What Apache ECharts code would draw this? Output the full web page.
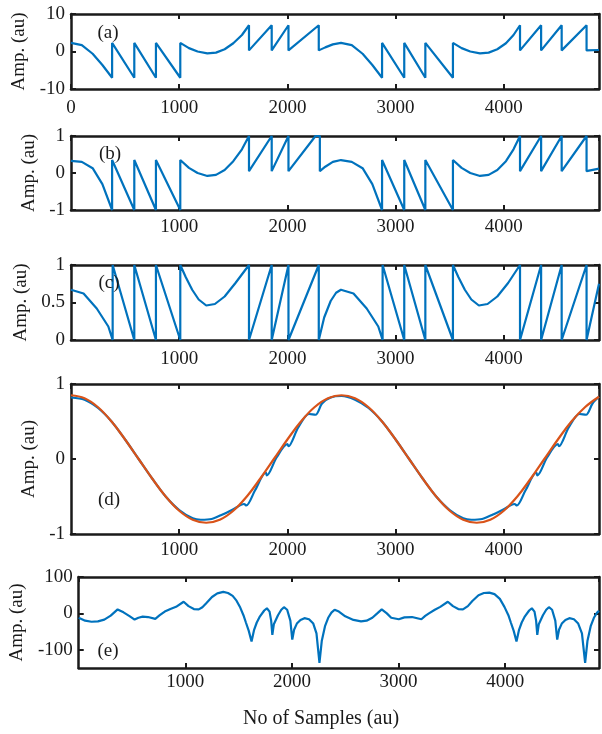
<!DOCTYPE html>
<html>
<head>
<meta charset="utf-8">
<script src="https://cdn.jsdelivr.net/npm/echarts@6/dist/echarts.min.js"></script>
<style>
  html, body { margin: 0; padding: 0; background: #fff; }
  #chart { width: 602px; height: 734px; }
</style>
</head>
<body>
<div id="chart"></div>
<script>
// samples / amplitudes
var aSamples = [0,100,200,290,380, 380,585, 585,785, 785,1010, 1010,1090,1170,1260,1340,1420,1500,1580,1645, 1645,1855, 1855,2010, 2010,2290, 2290,2350,2420,2495,2595,2695,2785,2875, 2875,3080, 3080,3275, 3275,3530, 3530,3610,3690,3780,3860,3940,4020,4090,4150, 4150,4345, 4345,4535, 4535,4765, 4765,4880];
var aAmp = [2.3,1.7,-0.6,-3.6,-7.0, 2.3,-7.0, 2.3,-7.0, 2.3,-7.0, 2.3,0.9,0,-0.5,-0.3,0.6,2.2,4.4,7.0, 0.3,7.0, 0.3,7.0, 0.3,7.0, 0.3,1.1,1.9,2.3,1.7,-0.6,-3.6,-7.0, 2.3,-7.0, 2.3,-7.0, 2.3,-7.0, 2.3,0.9,0,-0.5,-0.3,0.6,2.2,4.4,7.0, 0.3,7.0, 0.3,7.0, 0.3,7.0, 0.3,0.4];

var bSamples = [0,100,200,290,380, 380,585, 585,785, 785,1010, 1010,1090,1170,1260,1340,1420,1500,1580,1645, 1645,1855, 1855,2010, 2010,2260,2300, 2300,2350,2420,2495,2595,2695,2785,2875, 2875,3080, 3080,3275, 3275,3530, 3530,3610,3690,3780,3860,3940,4020,4090,4150, 4150,4345, 4345,4535, 4535,4765, 4765,4880];
var bAmp = [0.33,0.3,0.13,-0.3,-1, 0.35,-1, 0.35,-1, 0.35,-1, 0.35,0.14,0,-0.08,-0.05,0.08,0.32,0.64,1, 0.05,1, 0.05,1, 0.05,1,1, 0.05,0.17,0.3,0.35,0.3,0.13,-0.3,-1, 0.35,-1, 0.35,-1, 0.35,-1, 0.35,0.14,0,-0.08,-0.05,0.08,0.32,0.64,1, 0.05,1, 0.05,1, 0.05,1, 0.05,0.12];

var cSamples = [0,116,238,345,385, 385,585, 585,785, 785,1010, 1010,1060,1120,1180,1250,1330,1420,1520,1645, 1645,1855, 1855,2010, 2010,2290, 2290,2340,2400,2450,2495,2611,2733,2840,2880, 2880,3080, 3080,3275, 3275,3530, 3530,3580,3640,3700,3770,3850,3940,4040,4150, 4150,4345, 4345,4535, 4535,4765, 4765,4880];
var cAmp = [0.67,0.62,0.42,0.18,0, 1,0, 1,0, 1,0, 1,0.84,0.67,0.54,0.46,0.48,0.58,0.76,1, 0,1, 0,1, 0,1, 0,0.3,0.52,0.63,0.67,0.62,0.42,0.18,0, 1,0, 1,0, 1,0, 1,0.84,0.67,0.54,0.46,0.48,0.58,0.76,1, 0,1, 0,1, 0,1, 0,0.75];

var dSamples = [0,125,250,375,500,625,750,875,1000,1125,1200,1300,1400,1500,1600,1620,1700,1800,1810,1900,2000,2010,2100,2200,2260,2320,2400,2500,2625,2750,2875,3000,3125,3250,3375,3500,3625,3700,3800,3900,4000,4100,4120,4200,4300,4310,4400,4500,4510,4600,4700,4760,4820,4880];
var dAmp = [0.82,0.79,0.68,0.5,0.26,0,-0.26,-0.5,-0.68,-0.79,-0.81,-0.8,-0.74,-0.67,-0.6,-0.62,-0.42,-0.18,-0.22,0.02,0.2,0.17,0.42,0.6,0.59,0.74,0.82,0.84,0.79,0.68,0.5,0.26,0,-0.26,-0.5,-0.68,-0.79,-0.81,-0.8,-0.74,-0.67,-0.6,-0.62,-0.42,-0.18,-0.22,0.02,0.2,0.17,0.42,0.6,0.59,0.74,0.83];
var dFitSamples = [0,125,250,375,500,625,750,875,1000,1125,1250,1375,1500,1625,1750,1875,2000,2125,2250,2375,2500,2625,2750,2875,3000,3125,3250,3375,3500,3625,3750,3875,4000,4125,4250,4375,4500,4625,4750,4880];
var dFitAmp = [0.85,0.81,0.69,0.5,0.26,0,-0.26,-0.5,-0.69,-0.81,-0.85,-0.81,-0.69,-0.5,-0.26,0,0.26,0.5,0.69,0.81,0.85,0.81,0.69,0.5,0.26,0,-0.26,-0.5,-0.69,-0.81,-0.85,-0.81,-0.69,-0.5,-0.26,0,0.26,0.5,0.69,0.83];

var eSamples = [0,60,120,180,240,300,365,420,480,524,560,600,650,718,760,807,860,913,984,1030,1080,1126,1160,1196,1250,1300,1356,1400,1444,1480,1515,1545,1568,1595,1621,1645,1670,1700,1740,1765,1790,1805,1816,1830,1869,1900,1925,1955,1985,2003,2020,2046,2080,2117,2160,2200,2230,2258,2280,2310,2340,2370,2400,2440,2500,2577,2648,2700,2754,2800,2842,2890,2931,3002,3055,3126,3214,3250,3285,3340,3391,3462,3510,3560,3604,3650,3692,3750,3800,3851,3900,3950,3993,4030,4053,4080,4106,4130,4155,4185,4225,4250,4275,4290,4301,4315,4354,4385,4410,4440,4470,4488,4505,4531,4565,4602,4645,4685,4720,4750,4772,4802,4832,4862,4880];
var eAmp = [-12,-20,-23,-22,-17,-6,11,3,-8,-17,-12,-9,-10,-15,-5,5,12,18,32,20,12,11,17,28,45,55,59,56,48,35,16,-5,-25,-48,-77,-45,-25,-8,8,14,5,-20,-59,-30,-5,10,17,10,-20,-72,-45,-28,-18,-13,-16,-28,-55,-136,-75,-35,-12,2,10,5,-8,-18,-22,-20,-12,0,11,0,-12,-16,-11,-10,-16,-7,0,10,18,32,20,12,11,20,34,50,56,57,53,40,18,-5,-25,-48,-77,-45,-25,-8,8,14,5,-20,-59,-30,-5,10,17,10,-20,-72,-45,-28,-18,-13,-16,-28,-55,-136,-75,-35,-12,2,7];

var panelTags = ['(a)', '(b)', '(c)', '(d)', '(e)'];
var xTickStep = 1000;
var sampleMax = 4880;

function zip(xs, ys) {
	return xs.map(function (x, i) { return [x, ys[i]]; });
}

var font = 'Liberation Serif';
var ink = '#1a1a1a';
var blue = '#0072BD';
var orange = '#D95319';

// grid boxes in px
var boxes = [
	{top: 14, height: 75, labelGap: 10, y: {min: -10, max: 10, interval: 10}},
	{top: 136, height: 74, labelGap: 8, y: {min: -1, max: 1, interval: 1}},
	{top: 265, height: 75, labelGap: 10, y: {min: 0, max: 1, interval: 0.5}},
	{top: 384, height: 150, labelGap: 7, y: {min: -1, max: 1, interval: 1}},
	{top: 577, height: 91, labelGap: 5, y: {min: -150, max: 100, custom: [-100, 0, 100]}}
];

var plain = function (v) { return String(v); };

var grid = [], xAxis = [], yAxis = [];
boxes.forEach(function (b, i) {
	grid.push({left: 71, right: 3, top: b.top, height: b.height});
	var line = {show: true, onZero: false, lineStyle: {color: ink, width: 2.5}};
	var tick = {show: true, inside: true, length: 5, lineStyle: {color: ink, width: 2}};
	var common = {
		type: 'value', gridIndex: i, min: 0, max: sampleMax, interval: xTickStep,
		axisLine: line, axisTick: tick, splitLine: {show: false}
	};
	xAxis.push(Object.assign({}, common, {
		position: 'bottom',
		axisLabel: {
			color: ink, fontFamily: font, fontSize: 19, margin: b.labelGap,
			showMinLabel: i === 0, showMaxLabel: false, formatter: plain
		}
	}));
	xAxis.push(Object.assign({}, common, {position: 'top', axisLabel: {show: false}}));

	var yBase = {
		type: 'value', gridIndex: i, min: b.y.min, max: b.y.max,
		axisLine: line, splitLine: {show: false}
	};
	var yTick = Object.assign({}, tick);
	var yLab = {color: ink, fontFamily: font, fontSize: 19, margin: 6, formatter: plain};
	if (b.y.custom) {
		yTick.customValues = b.y.custom;
		yLab.customValues = b.y.custom;
	} else {
		yBase.interval = b.y.interval;
	}
	yAxis.push(Object.assign({}, yBase, {
		position: 'left', axisTick: yTick, axisLabel: yLab,
		name: 'Amp. (au)', nameLocation: 'middle', nameGap: 31,
		nameTextStyle: {color: ink, fontFamily: font, fontSize: 19}
	}));
	yAxis.push(Object.assign({}, yBase, {
		position: 'right', axisTick: yTick, axisLabel: {show: false,
			customValues: b.y.custom}
	}));
});

function lineSeries(i, data, color, smooth) {
	return {
		type: 'line', xAxisIndex: i * 2, yAxisIndex: i * 2,
		data: data, showSymbol: false, smooth: smooth || false,
		lineStyle: {color: color, width: 2.2}, z: 3
	};
}

var series = [
	lineSeries(0, zip(aSamples, aAmp), blue),
	lineSeries(1, zip(bSamples, bAmp), blue),
	lineSeries(2, zip(cSamples, cAmp), blue),
	lineSeries(3, zip(dSamples, dAmp), blue, 0.3),
	lineSeries(3, zip(dFitSamples, dFitAmp), orange, 0.4),
	lineSeries(4, zip(eSamples, eAmp), blue)
];

var tagPos = [[108, 33], [110, 154], [109, 283], [109, 500], [108, 651]];
var graphic = panelTags.map(function (t, i) {
	return {
		type: 'text', x: tagPos[i][0], y: tagPos[i][1], z: 10,
		style: {text: t, fill: ink, font: '19px "Liberation Serif"',
			textAlign: 'center', textVerticalAlign: 'middle'}
	};
});
graphic.push({
	type: 'text', x: 321, y: 719,
	style: {text: 'No of Samples (au)', fill: ink, font: '20px "Liberation Serif"',
		textAlign: 'center', textVerticalAlign: 'middle'}
});

var myChart = echarts.init(document.getElementById('chart'), null, {renderer: 'canvas'});
myChart.setOption({
	animation: false,
	backgroundColor: '#fff',
	grid: grid,
	xAxis: xAxis,
	yAxis: yAxis,
	series: series,
	graphic: graphic
});
</script>
</body>
</html>
